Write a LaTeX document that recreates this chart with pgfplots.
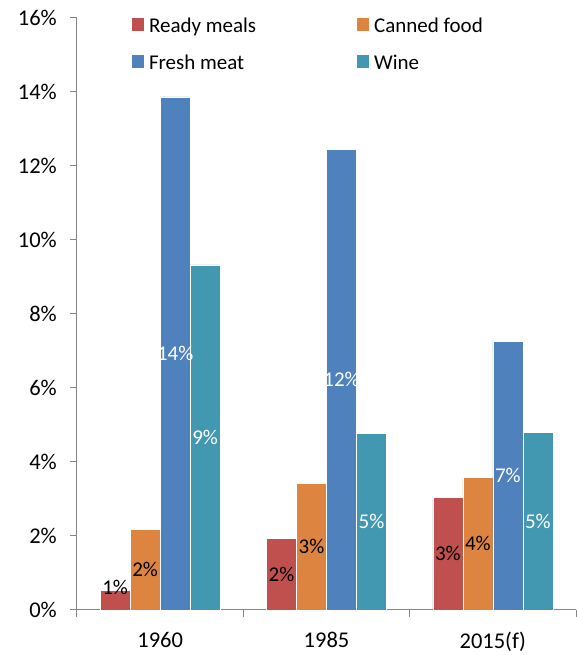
\documentclass[border=0pt]{standalone}
\usepackage{fontspec}
\setmainfont{Carlito}
\usepackage{pgfplots}
\pgfplotsset{compat=1.18}
\definecolor{cRed}{HTML}{C0504D}
\definecolor{cOrange}{HTML}{DD8540}
\definecolor{cBlue}{HTML}{4F81BD}
\definecolor{cTeal}{HTML}{4298B0}
\definecolor{axgray}{HTML}{868686}
\begin{document}
\fontsize{21}{25}\selectfont
\begin{tikzpicture}
\path[use as bounding box] (-77pt,-45pt) rectangle (499pt,610pt);
\begin{axis}[
  scale only axis,
  width=499pt, height=592pt,
  /pgf/number format/assume math mode=true,
  font=\fontsize{21}{25}\selectfont,
  tick label style={font=\fontsize{22.5}{26}\selectfont},
  ymin=0, ymax=16, ytick={0,2,...,16},
  yticklabel={\pgfmathprintnumber{\tick}\%},
  xmin=-0.5, xmax=2.5,
  xtick={0,1,2}, xticklabels={1960,1985,2015(f)},
  minor xtick={-0.5,0.5,1.5,2.5},
  axis x line*=bottom, axis y line*=left,
  axis line style={axgray, line width=1pt, -},
  tick align=outside,
  major tick length=7pt, minor tick length=7pt,
  major x tick style={draw=none},
  minor x tick style={axgray, line width=1pt},
  y tick style={axgray, line width=1pt},
  yticklabel style={xshift=-6pt},
  xticklabel style={yshift=-8pt},
  ybar=0pt, bar width=0.1804,
  nodes near coords={\pgfmathprintnumber[fixed,precision=0]{\pgfplotspointmeta}\%},
  visualization depends on=rawy \as \rawy,
  every node near coord/.append style={anchor=center, shift={(axis direction cs:0,{\rawy<1 ? 0.09 : -\rawy/2})}, font=\fontsize{21}{25}\selectfont},
  legend columns=2,
  legend cell align=left,
  legend style={draw=none, fill=none, at={(rel axis cs:0,1)}, anchor=north west, xshift=55pt, yshift=0pt, inner sep=0pt, outer sep=0pt,
     font=\fontsize{21}{25}\selectfont,
     nodes={inner sep=0pt, text height=15pt, text depth=5pt},
     /tikz/every even column/.append style={column sep=101pt},
     /tikz/every odd column/.append style={column sep=5pt},
     row sep=16.7pt},
  legend image code/.code={\fill[#1,draw=none] (0pt,-3pt) rectangle (12pt,9.7pt);},
]
\addplot[fill=cRed, draw=white, line width=0.5pt] coordinates {(0,0.53) (1,1.94) (2,3.05)};
\addplot[fill=cOrange, draw=white, line width=0.5pt] coordinates {(0,2.17) (1,3.43) (2,3.59)};
\addplot[fill=cBlue, draw=white, line width=0.5pt, every node near coord/.append style={text=white}] coordinates {(0,13.87) (1,12.45) (2,7.27)};
\addplot[fill=cTeal, draw=white, line width=0.5pt, every node near coord/.append style={text=white}] coordinates {(0,9.33) (1,4.78) (2,4.80)};
\legend{Ready meals, Canned food, Fresh meat, Wine}
\end{axis}
\end{tikzpicture}
\end{document}
